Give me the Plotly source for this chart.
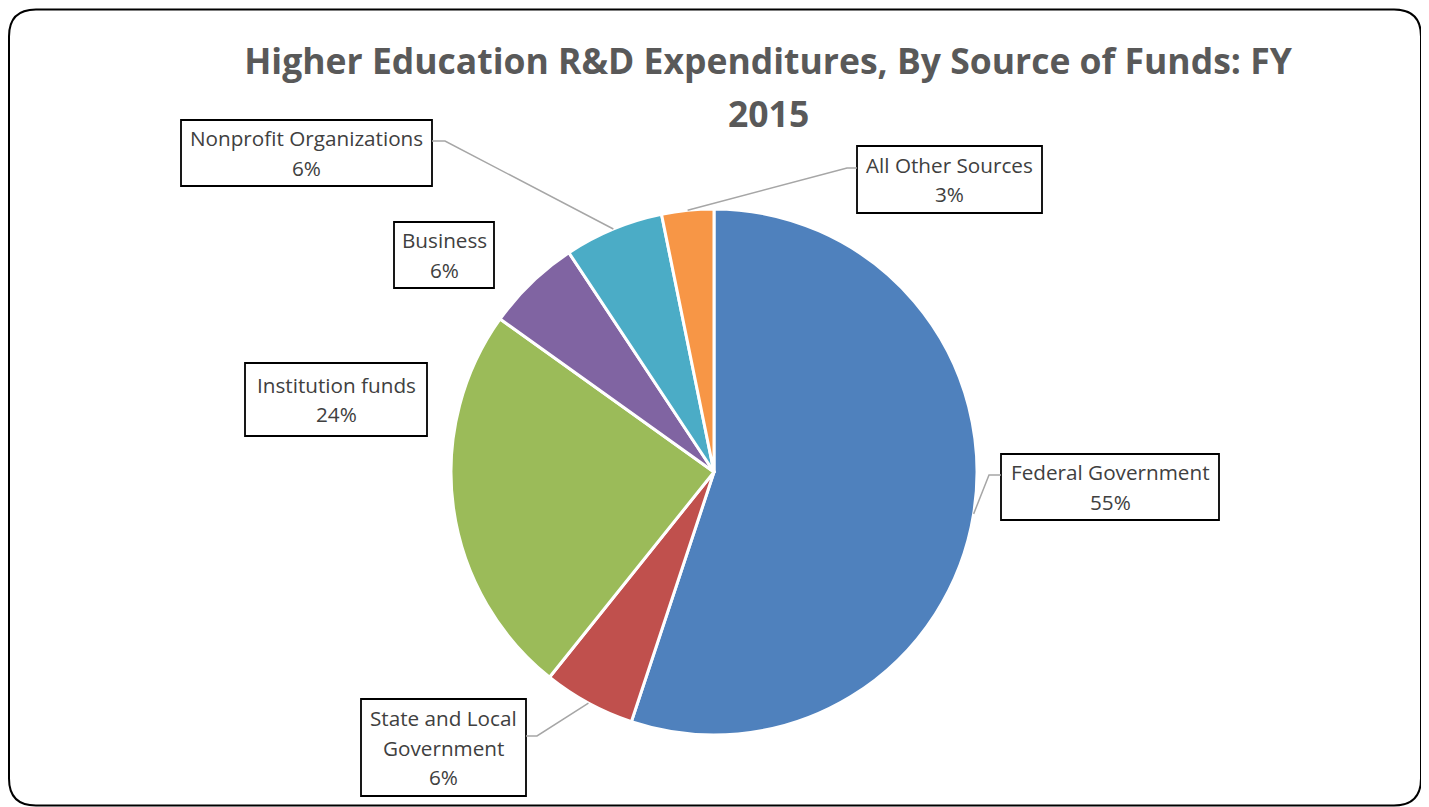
import math
import plotly.graph_objects as go

# ---------------- data ----------------
categories = ["Federal Government", "State and Local Government", "Institution funds",
              "Business", "Nonprofit Organizations", "All Other Sources"]
label_lines = [["Federal Government"], ["State and Local", "Government"], ["Institution funds"],
               ["Business"], ["Nonprofit Organizations"], ["All Other Sources"]]
values = [37.9, 3.9, 16.6, 4.0, 4.2, 2.2]   # $ billions, FY 2015
colors = ["#4F81BD", "#C0504D", "#9BBB59", "#8064A2", "#4BACC6", "#F79646"]
title_lines = ["Higher Education R&D Expenditures, By Source of Funds: FY", "2015"]

# ---------------- layout constants (page pixels) ----------------
PAGE_W, PAGE_H = 1429, 807
OFF = 8                      # default page body margin
W, H = PAGE_W - OFF, PAGE_H - OFF
CX, CY, R = 714, 472, 263
FONT = "Open Sans, sans-serif"
LINE_GAP = 29.5


def fx(p):
    return (p - OFF) / W


def fy(p):
    return 1 - (p - OFF) / H


# label boxes: left, top, right, bottom
boxes = {
    "Federal Government": (1001, 454, 1219, 520),
    "State and Local Government": (361, 699, 526, 796),
    "Institution funds": (245, 363, 427, 436),
    "Business": (394, 222, 494, 288),
    "Nonprofit Organizations": (181, 120, 432, 186),
    "All Other Sources": (857, 146, 1042, 213),
}
# leader lines: bend point, attach point on box
leaders = {
    "Federal Government": ((989, 475), (1001, 475)),
    "State and Local Government": ((537, 736), (526, 736)),
    "Nonprofit Organizations": ((445, 141), (432, 141)),
    "All Other Sources": ((847, 168), (857, 168)),
}

total = sum(values)
fig = go.Figure()
fig.add_trace(go.Pie(
    labels=categories, values=values, sort=False, direction="clockwise", rotation=0,
    marker=dict(colors=colors, line=dict(color="white", width=3)),
    textinfo="none", hoverinfo="label+percent", showlegend=False,
    domain=dict(x=[fx(CX - R), fx(CX + R)], y=[fy(CY + R), fy(CY - R)]),
))

annotations = []
shapes = []
cum = 0.0
for cat, lines, v in zip(categories, label_lines, values):
    frac_mid = (cum + v / 2) / total
    cum += v
    pct = round(v / total * 100)
    l, t, r, b = boxes[cat]
    shapes.append(dict(type="rect", xref="paper", yref="paper",
                       x0=fx(l), x1=fx(r), y0=fy(b), y1=fy(t),
                       line=dict(color="black", width=1.8), fillcolor="white", layer="above"))
    all_lines = lines + [f"{pct}%"]
    n = len(all_lines)
    mid = (t + b) / 2
    for i, txt in enumerate(all_lines):
        yy = mid + (i - (n - 1) / 2) * LINE_GAP
        annotations.append(dict(
            x=fx((l + r) / 2), y=fy(yy), xref="paper", yref="paper",
            xanchor="center", yanchor="middle", showarrow=False, text=txt,
            font=dict(family=FONT, size=20.7, color="#404040"),
        ))
    if cat in leaders:
        ang = 2 * math.pi * frac_mid
        sx = CX + R * math.sin(ang)
        sy = CY - R * math.cos(ang)
        (bx, by), (ex, ey) = leaders[cat]
        shapes.append(dict(
            type="path", xref="paper", yref="paper",
            path=f"M {fx(sx)},{fy(sy)} L {fx(bx)},{fy(by)} L {fx(ex)},{fy(ey)}",
            line=dict(color="#A6A6A6", width=1.5),
        ))

# rounded chart frame
x0, y0, x1, y1, rc = 9, 9.5, 1421, 805.5, 27
frame = (f"M {fx(x0 + rc)},{fy(y0)} L {fx(x1 - rc)},{fy(y0)} Q {fx(x1)},{fy(y0)} {fx(x1)},{fy(y0 + rc)} "
         f"L {fx(x1)},{fy(y1 - rc)} Q {fx(x1)},{fy(y1)} {fx(x1 - rc)},{fy(y1)} "
         f"L {fx(x0 + rc)},{fy(y1)} Q {fx(x0)},{fy(y1)} {fx(x0)},{fy(y1 - rc)} "
         f"L {fx(x0)},{fy(y0 + rc)} Q {fx(x0)},{fy(y0)} {fx(x0 + rc)},{fy(y0)} Z")
shapes.append(dict(type="path", xref="paper", yref="paper", path=frame,
                   line=dict(color="black", width=2)))

title_font = dict(family=FONT, size=35.5, color="#595959", weight=700)
annotations.append(dict(x=fx(768), y=fy(113), xref="paper", yref="paper",
                        xanchor="center", yanchor="middle", showarrow=False,
                        text=title_lines[1], font=title_font))

fig.update_layout(
    width=W, height=H, margin=dict(l=0, r=0, t=0, b=0),
    paper_bgcolor="white", plot_bgcolor="white",
    title=dict(text=title_lines[0], x=fx(768), xanchor="center", y=fy(62), yanchor="middle",
               font=title_font),
    annotations=annotations, shapes=shapes,
)
fig.write_html("out.html")
